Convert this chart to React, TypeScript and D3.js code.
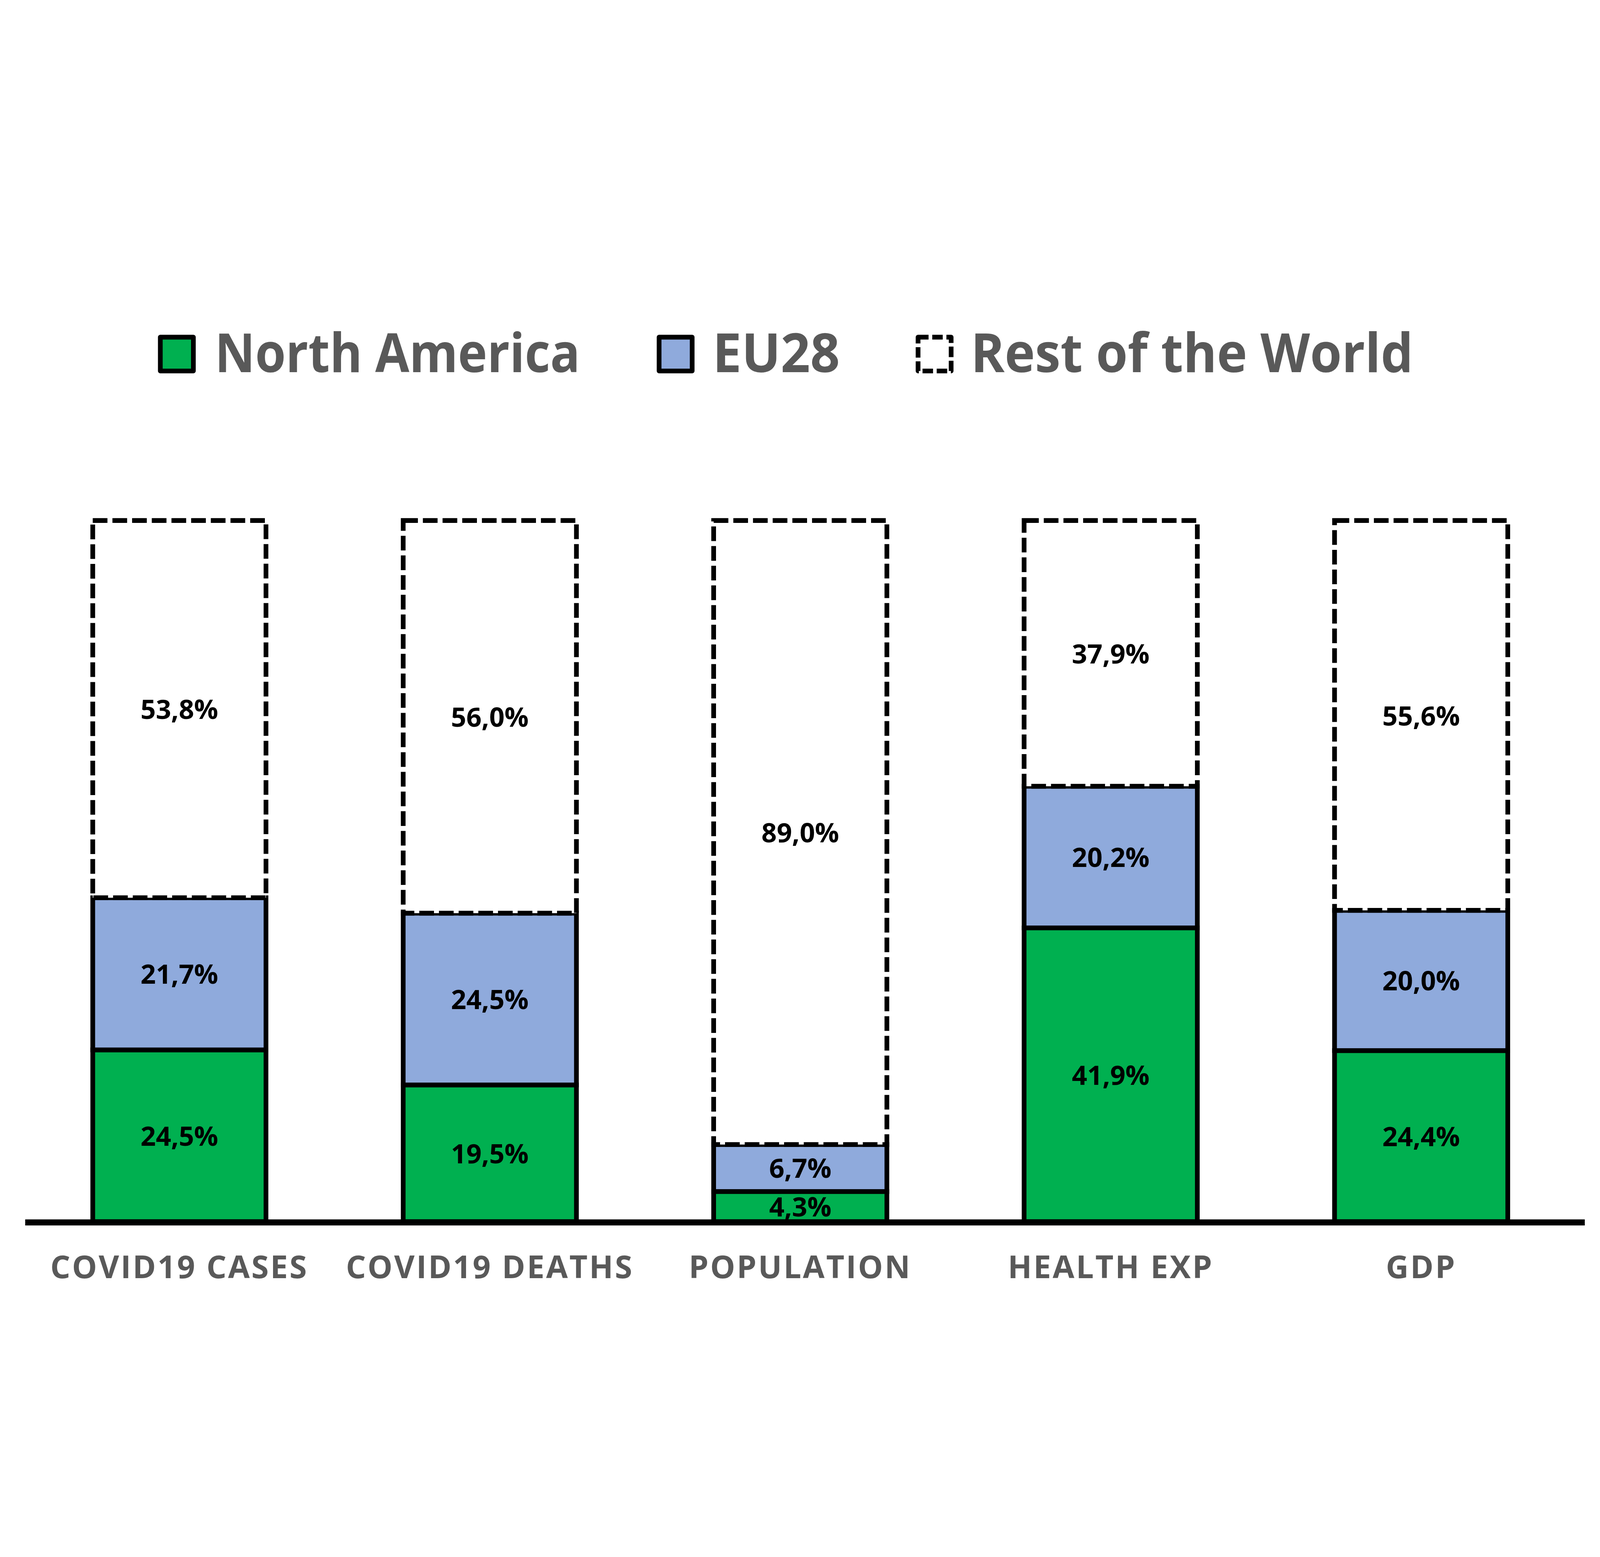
import React from "react";
import * as d3 from "d3";

// data (shares in %)
const categories = ["COVID19 CASES", "COVID19 DEATHS", "POPULATION", "HEALTH EXP", "GDP"];
const seriesNames = ["North America", "EU28", "Rest of the World"];
const northAmerica = [24.5, 19.5, 4.3, 41.9, 24.4];
const eu28 = [21.7, 24.5, 6.7, 20.2, 20.0];
const restOfWorld = [53.8, 56.0, 89.0, 37.9, 55.6];

const W = 6098;
const H = 3987;
const colors = ["#00B050", "#8FAADC", "#FFFFFF"];
const textGray = "#595959";
const font = "'Open Sans', 'Noto Sans', sans-serif";
const strokeW = 18;
const dash = "56 19";

// legend layout: square left edge, text start, text width
const legendSquareX = [611, 2512, 3499];
const legendTextX = [819, 2716, 3700];
const legendTextW = [1392, 485, 1686];

const fmt = (v: number) => v.toFixed(1).replace(".", ",") + "%";

const App: React.FC = () => {
  const table = categories.map((c, i) => ({
    category: c,
    na: northAmerica[i],
    eu: eu28[i],
    rest: restOfWorld[i],
  }));
  const keys = ["na", "eu", "rest"];
  const stacked = d3.stack<any>().keys(keys)(table);

  const x = d3
    .scaleBand()
    .domain(categories)
    .range([92, 6008])
    .paddingInner(0.442)
    .paddingOuter(0.221);

  const y = d3.scaleLinear().domain([0, 100]).range([3683, 1010]);

  return (
    <svg
      viewBox={`0 0 ${W} ${H}`}
      preserveAspectRatio="xMidYMid meet"
      style={{
        position: "fixed",
        left: 0,
        top: 0,
        width: "100vw",
        height: "100vh",
        display: "block",
        background: "#fff",
      }}
    >
      <rect x={0} y={0} width={W} height={H} fill="#fff" />

      {/* legend */}
      {seriesNames.map((name, i) => (
        <g key={name}>
          <rect
            x={legendSquareX[i]}
            y={311}
            width={126}
            height={129}
            fill={colors[i]}
            stroke="#000"
            strokeWidth={strokeW}
            strokeLinejoin="round"
            strokeDasharray={i === 2 ? "40 14" : undefined}
          />
          <text
            x={legendTextX[i]}
            y={444}
            fontFamily={font}
            fontWeight={700}
            fontSize={206}
            fill={textGray}
            textLength={legendTextW[i]}
            lengthAdjust="spacingAndGlyphs"
          >
            {name}
          </text>
        </g>
      ))}

      {/* stacked bars: NA, EU, then rest so the dashed edge sits on top */}
      {stacked.map((layer, si) => (
        <g key={layer.key}>
          {layer.map((d, ci) => (
            <rect
              key={ci}
              x={x(categories[ci])!}
              y={y(d[1])}
              width={x.bandwidth()}
              height={y(d[0]) - y(d[1])}
              fill={colors[si]}
              stroke="#000"
              strokeWidth={strokeW}
              strokeDasharray={si === 2 ? dash : undefined}
            />
          ))}
        </g>
      ))}

      {/* value labels */}
      {stacked.map((layer) => (
        <g key={"lbl-" + layer.key}>
          {layer.map((d, ci) => (
            <text
              key={ci}
              x={x(categories[ci])! + x.bandwidth() / 2}
              y={(y(d[0]) + y(d[1])) / 2 + 38}
              textAnchor="middle"
              fontFamily={font}
              fontWeight={700}
              fontSize={102}
              fill="#000"
            >
              {fmt(d[1] - d[0])}
            </text>
          ))}
        </g>
      ))}

      {/* baseline */}
      <line x1={96} x2={6040} y1={3686} y2={3686} stroke="#000" strokeWidth={23} />

      {/* category labels */}
      {categories.map((c) => (
        <text
          key={c}
          x={x(c)! + x.bandwidth() / 2}
          y={3898}
          textAnchor="middle"
          fontFamily={font}
          fontWeight={700}
          fontSize={120}
          letterSpacing={6}
          fill={textGray}
        >
          {c}
        </text>
      ))}
    </svg>
  );
};

export default App;
